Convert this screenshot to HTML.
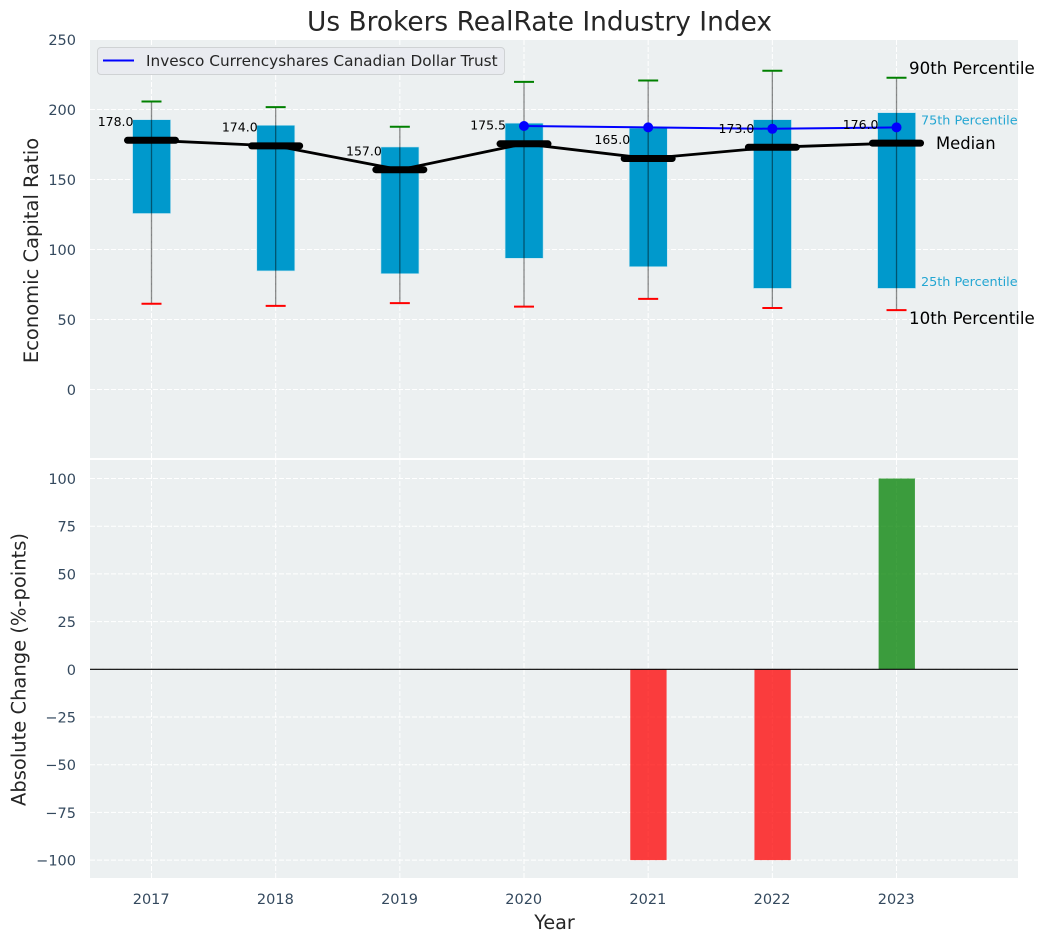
<!DOCTYPE html>
<html lang="en">
<head>
<meta charset="utf-8">
<title>Us Brokers RealRate Industry Index</title>
<style>
html,body{margin:0;padding:0;background:#fff;}
svg{display:block;font-family:"DejaVu Sans","Liberation Sans",sans-serif;}
</style>
</head>
<body>
<svg id="chart" width="1044" height="942" viewBox="0 0 1044 942" xmlns="http://www.w3.org/2000/svg">
  <rect x="0" y="0" width="1044" height="942" fill="#ffffff"/>
  <rect x="90" y="40" width="928" height="418" fill="#ecf0f1"/>
  <rect x="90" y="460" width="928" height="418" fill="#ecf0f1"/>
  <g id="grid"></g>
  <g id="marks"></g>
  <g id="ticks"></g>
  <text x="539.5" y="30.5" text-anchor="middle" font-size="26.4" fill="#262626">Us Brokers RealRate Industry Index</text>
  <text transform="translate(38,250.5) rotate(-90)" text-anchor="middle" font-size="19.5" fill="#262626">Economic Capital Ratio</text>
  <text transform="translate(25.5,669.5) rotate(-90)" text-anchor="middle" font-size="19.5" fill="#262626">Absolute Change (%-points)</text>
  <text x="554.5" y="929" text-anchor="middle" font-size="19.2" fill="#262626">Year</text>
  <g>
    <rect x="97.5" y="47.5" width="407" height="27" rx="3.5" fill="#e9ebf0" stroke="#cfd2d4" stroke-width="1"/>
    <line x1="103" y1="60.5" x2="134" y2="60.5" stroke="#0000ff" stroke-width="2"/>
    <text x="146" y="66" font-size="15.3" fill="#262626">Invesco Currencyshares Canadian Dollar Trust</text>
  </g>
  <text x="909" y="74" font-size="16.67" fill="#000">90th Percentile</text>
  <text x="921" y="124.5" font-size="12.8" fill="#0099cc" fill-opacity="0.85">75th Percentile</text>
  <text x="936" y="149" font-size="16.4" fill="#000">Median</text>
  <text x="921" y="286" font-size="12.8" fill="#0099cc" fill-opacity="0.85">25th Percentile</text>
  <text x="909" y="324" font-size="16.67" fill="#000">10th Percentile</text>
</svg>
<script>
const years = [2017, 2018, 2019, 2020, 2021, 2022, 2023];
const p90 = [206, 202, 188, 220, 221, 228, 223];
const p75 = [193, 189, 173.5, 190.5, 187, 193, 198];
const medians = [178, 174, 157, 175.5, 165, 173, 176];
const p25 = [126, 85, 83, 94, 88, 72.5, 72.5];
const p10 = [61.5, 60, 62, 59.5, 65, 58.5, 57];
const trustYears = [2020, 2021, 2022, 2023];
const trustValues = [188.5, 187.5, 186.5, 187.5];
const changes = [0, 0, 0, 0, -100, -100, 100];
const topTicks = [0, 50, 100, 150, 200, 250];
const bottomTicks = [-100, -75, -50, -25, 0, 25, 50, 75, 100];

const NS = 'http://www.w3.org/2000/svg';
const xScale = v => 151.5 + (v - 2017) * 124.17;
const yTop = v => 389.5 - v * 1.4;
const yMark = v => yTop(v) + 0.4;
const yBottom = v => 669.3 - v * 1.908;
const gridG = document.getElementById('grid');
const marksG = document.getElementById('marks');
const ticksG = document.getElementById('ticks');

function mk(parent, tag, attrs, text) {
  const el = document.createElementNS(NS, tag);
  for (const k in attrs) el.setAttribute(k, attrs[k]);
  if (text !== undefined) el.textContent = text;
  parent.appendChild(el);
  return el;
}
const gridStyle = {stroke: '#ffffff', 'stroke-width': 1, 'stroke-dasharray': '5 2'};

years.forEach(function (yr) {
  const x = xScale(yr);
  let el = mk(gridG, 'line', Object.assign({x1: x, x2: x, y1: 40, y2: 458}, gridStyle));
  
  
  el = mk(gridG, 'line', Object.assign({x1: x, x2: x, y1: 460, y2: 878}, gridStyle));
  
  
  el = mk(ticksG, 'text', {x: x - 0.3, y: 904, 'text-anchor': 'middle', 'font-size': 14.5, fill: '#34495e'}, String(yr));
  
  
});
topTicks.forEach(function (t) {
  const y = yTop(t);
  let el = mk(gridG, 'line', Object.assign({x1: 90, x2: 1018, y1: y, y2: y}, gridStyle));
  
  
  el = mk(ticksG, 'text', {x: 76, y: y + 5.5, 'text-anchor': 'end', 'font-size': 14.5, fill: '#34495e'}, String(t));
  
  
});
bottomTicks.forEach(function (t) {
  const y = yBottom(t);
  let el = mk(gridG, 'line', Object.assign({x1: 90, x2: 1018, y1: y, y2: y}, gridStyle));
  
  
  el = mk(ticksG, 'text', {x: 76, y: y + 5.5, 'text-anchor': 'end', 'font-size': 14.5, fill: '#34495e'}, String(t).replace('-', '\u2212'));
  
  
});

/* interquartile boxes */
years.forEach(function (yr, i) {
  const x = xScale(yr);
  const el = mk(marksG, 'rect', {x: x - 18.9, y: yMark(p75[i]), width: 38, height: yMark(p25[i]) - yMark(p75[i]), fill: '#0099cc', stroke: '#bfe3ef', 'stroke-width': 0.6});
  
  
});
/* whiskers */
years.forEach(function (yr, i) {
  const x = xScale(yr);
  let el = mk(marksG, 'line', {x1: x, x2: x, y1: yMark(p90[i]), y2: yMark(p10[i]), stroke: '#000', 'stroke-opacity': 0.45, 'stroke-width': 1.3});
  
  
  el = mk(marksG, 'line', {x1: x - 10, x2: x + 10, y1: yMark(p90[i]), y2: yMark(p90[i]), stroke: '#008000', 'stroke-width': 2});
  
  
  el = mk(marksG, 'line', {x1: x - 10, x2: x + 10, y1: yMark(p10[i]), y2: yMark(p10[i]), stroke: '#ff0000', 'stroke-width': 2});
  
  
});
/* trust line */
let trustLine = mk(marksG, 'polyline', {
  points: trustYears.map((yr, i) => xScale(yr) + ',' + yMark(trustValues[i])).join(' '),
  fill: 'none', stroke: '#0000ff', 'stroke-width': 2
});


trustYears.forEach(function (yr, i) {
  const el = mk(marksG, 'circle', {cx: xScale(yr), cy: yMark(trustValues[i]), r: 5, fill: '#0000ff'});
  
  
});
/* median labels, connector and bars */
years.forEach(function (yr, i) {
  const el = mk(marksG, 'text', {x: xScale(yr) - 18, y: yTop(medians[i]) - 14.3, 'text-anchor': 'end', 'font-size': 12.5, fill: '#000'}, medians[i].toFixed(1));
  
  
});
let medianLine = mk(marksG, 'polyline', {
  points: years.map((yr, i) => xScale(yr) + ',' + yTop(medians[i])).join(' '),
  fill: 'none', stroke: '#000', 'stroke-width': 2.8
});


years.forEach(function (yr, i) {
  const x = xScale(yr);
  const el = mk(marksG, 'line', {x1: x - 24, x2: x + 24, y1: yTop(medians[i]), y2: yTop(medians[i]), stroke: '#000', 'stroke-width': 7, 'stroke-linecap': 'round'});
  
  
});
/* absolute change bars */
years.forEach(function (yr, i) {
  if (changes[i] === 0) return;
  const x = xScale(yr);
  const y0 = yBottom(0), y1 = yBottom(changes[i]);
  const el = mk(marksG, 'rect', {
    x: x - 17.9, y: Math.min(y0, y1), width: 36.3, height: Math.abs(y1 - y0),
    fill: changes[i] > 0 ? '#008000' : '#ff0000', 'fill-opacity': 0.75
  });
  
  
});
let zeroLine = mk(marksG, 'line', {x1: 90, x2: 1018, y1: yBottom(0), y2: yBottom(0), stroke: '#000', 'stroke-width': 1.2});


</script>
</body>
</html>
